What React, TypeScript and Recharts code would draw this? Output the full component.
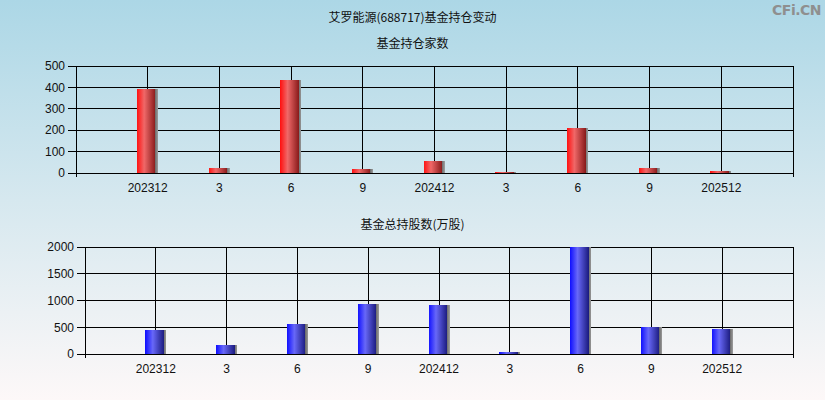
import React from 'react';
import { BarChart, Bar, XAxis, YAxis, CartesianGrid } from 'recharts';

// reporting periods (quarter ends)
const periods = ['202312', '3', '6', '9', '202412', '3', '6', '9', '202512'];
// number of funds holding
const fundCount = [392, 25, 434, 20, 58, 6, 209, 25, 11];
// total shares held by funds (10k shares)
const fundShares = [455, 174, 567, 941, 922, 44, 2000, 505, 461];

const countTicks = [0, 100, 200, 300, 400, 500];
const shareTicks = [0, 500, 1000, 1500, 2000];
const slotTicks = [0, 1, 2, 3, 4, 5, 6, 7, 8, 9, 10];

const countData = periods.map((p, i) => ({ pos: i + 1, label: p, value: fundCount[i] }));
const shareData = periods.map((p, i) => ({ pos: i + 1, label: p, value: fundShares[i] }));

const FONT = '"Liberation Sans", Arial, sans-serif';
const CJK = '"Noto Sans CJK SC", sans-serif';

const XTick = (props: any) => {
  const { x, y, payload } = props;
  const v = payload.value as number;
  const label = v >= 1 && v <= periods.length ? periods[v - 1] : '';
  const isEnd = v === 0 || v === 10;
  return (
    <g>
      {isEnd && <line x1={x} x2={x} y1={y - 10} y2={y - 6} stroke="#000" />}
      <text x={x} y={y} dy="0.71em" textAnchor="middle" fill="#111" fontSize={12} fontFamily={FONT}>
        {label}
      </text>
    </g>
  );
};

function Chart({ data, ticks, max, top, left, xHeight, grad }: any) {
  return (
    <BarChart
      width={825}
      height={200}
      data={data}
      margin={{ top, right: 32, bottom: 0, left: 0 }}
      style={{ position: 'absolute', top: 0, left: 0 }}
    >
      <defs>
        <linearGradient id="redBar" x1="0" y1="0" x2="1" y2="0">
          <stop offset="0" stopColor="#ff1010" />
          <stop offset="0.35" stopColor="#f06868" />
          <stop offset="0.88" stopColor="#8a1c1c" />
          <stop offset="0.88" stopColor="#6e6e6e" />
          <stop offset="1" stopColor="#9a9a9a" />
        </linearGradient>
        <linearGradient id="blueBar" x1="0" y1="0" x2="1" y2="0">
          <stop offset="0" stopColor="#1010ff" />
          <stop offset="0.35" stopColor="#6868f8" />
          <stop offset="0.88" stopColor="#1c1c80" />
          <stop offset="0.88" stopColor="#6e6e6e" />
          <stop offset="1" stopColor="#9a9a9a" />
        </linearGradient>
      </defs>
      <CartesianGrid stroke="#000" strokeOpacity={1} />
      <XAxis
        dataKey="pos"
        type="number"
        domain={[0, 10]}
        ticks={slotTicks}
        interval={0}
        height={xHeight}
        tickSize={4}
        tickMargin={6}
        tickLine={false}
        axisLine={{ stroke: '#000' }}
        tick={<XTick />}
      />
      <YAxis
        width={left}
        domain={[0, max]}
        ticks={ticks}
        interval={0}
        tickSize={8}
        tickMargin={3}
        axisLine={{ stroke: '#000' }}
        tickLine={{ stroke: '#000' }}
        tick={{ fill: '#111', fontSize: 12, fontFamily: FONT }}
      />
      <Bar dataKey="value" barSize={21} fill={`url(#${grad})`} isAnimationActive={false} />
    </BarChart>
  );
}

export default function App() {
  const title = (text: string, top: number, size = 12) => (
    <div
      style={{
        position: 'absolute',
        top,
        left: 0,
        width: 825,
        textAlign: 'center',
        fontFamily: CJK,
        fontSize: size,
        lineHeight: '14px',
        color: '#111',
      }}
    >
      {text}
    </div>
  );
  return (
    <div
      style={{
        position: 'absolute',
        top: 0,
        left: 0,
        width: 825,
        height: 400,
        overflow: 'hidden',
        background: 'linear-gradient(to bottom, #acd7e6 0%, #d6e8ef 50%, #fdf8f8 100%)',
      }}
    >
      <style>{'.recharts-wrapper line, .recharts-wrapper path, .recharts-wrapper rect { shape-rendering: crispEdges; }'}</style>
      {title('艾罗能源(688717)基金持仓变动', 10)}
      {title('基金持仓家数', 36)}
      {title('基金总持股数(万股)', 217)}
      <div
        style={{
          position: 'absolute',
          top: 2,
          right: 4,
          fontFamily: '"DejaVu Sans", sans-serif',
          fontSize: 14,
          fontWeight: 'bold',
          color: '#8f8f8f',
          letterSpacing: -0.5,
        }}
      >
        CFi.CN
      </div>
      <div style={{ position: 'absolute', top: 0, left: 0, width: 825, height: 200 }}>
        <Chart data={countData} ticks={countTicks} max={500} top={66} left={76} xHeight={27} grad="redBar" />
      </div>
      <div style={{ position: 'absolute', top: 200, left: 0, width: 825, height: 200 }}>
        <Chart data={shareData} ticks={shareTicks} max={2000} top={47} left={85} xHeight={46} grad="blueBar" />
      </div>
    </div>
  );
}
